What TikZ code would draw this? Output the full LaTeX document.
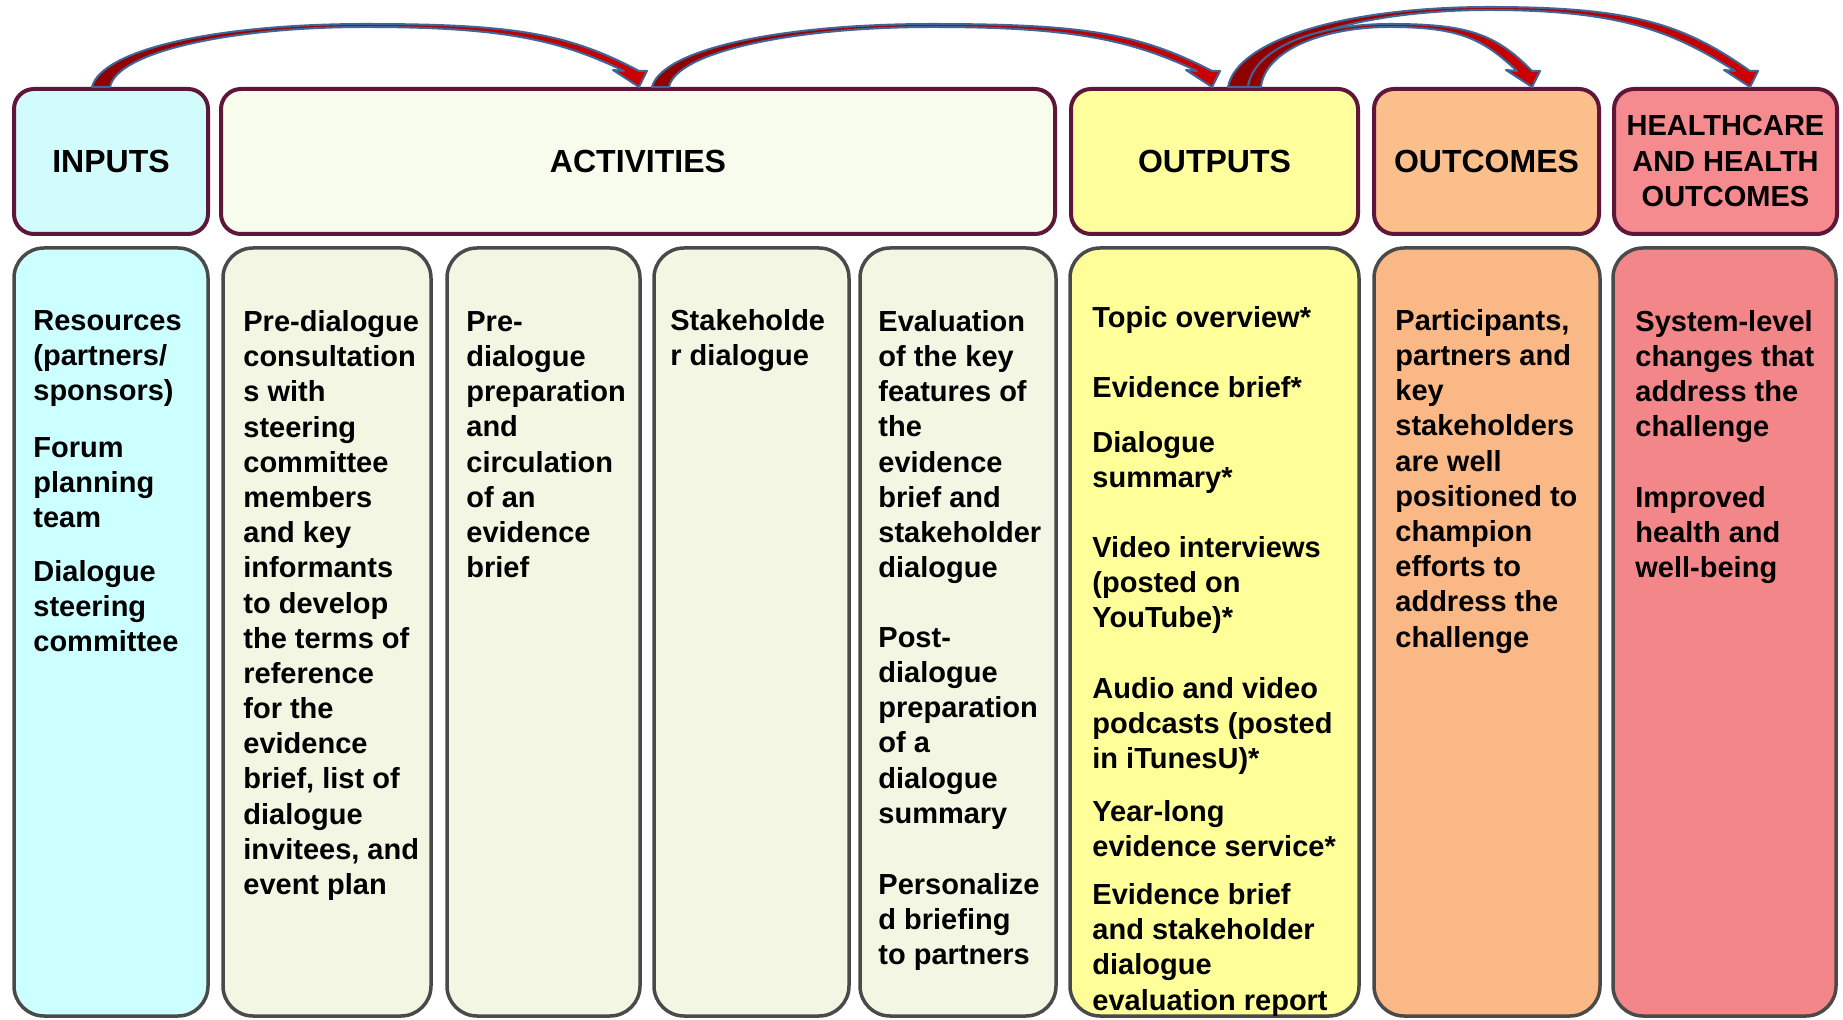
\documentclass[tikz,border=0pt]{standalone}
\usepackage{fontspec}
\setmainfont{Liberation Sans}
\usetikzlibrary{calc}
\definecolor{inH}{HTML}{D2FCFC}
\definecolor{inB}{HTML}{CCFFFF}
\definecolor{actH}{HTML}{F8FCEC}
\definecolor{actB}{HTML}{F2F6E3}
\definecolor{outH}{HTML}{FFFF9E}
\definecolor{outB}{HTML}{FFFF99}
\definecolor{ocH}{HTML}{FBBF8C}
\definecolor{ocB}{HTML}{FAB886}
\definecolor{hcH}{HTML}{F68B8F}
\definecolor{hcB}{HTML}{F38688}
\definecolor{hdrborder}{HTML}{5E1639}
\definecolor{colborder}{HTML}{4A4A4A}
\definecolor{arrowblue}{HTML}{3F6699}
\definecolor{arrowdark}{HTML}{8E0000}
\definecolor{arrowred}{HTML}{CC0000}
\tikzset{
  hdr/.style={draw=hdrborder, line width=2pt, rounded corners=10pt, align=center,
    inner sep=0pt, minimum height=72.5pt, font=\bfseries\fontsize{16}{17.75}\selectfont},
  colbox/.style={draw=colborder, line width=1.75pt, rounded corners=15pt, inner sep=0pt,
    minimum height=384pt},
  txt/.style={anchor=north west, inner sep=0pt, align=left,
    font=\bfseries\fontsize{14.5}{17.6}\selectfont},
  ribbonstyle/.style={draw=arrowblue, line width=1pt, line join=round,
    left color=arrowdark, right color=arrowred},
}
% #1 tail coordinate, #2 tip coordinate, #3 span (px), #4 rise (px), #5 tail width (px)
\newcommand\ribbon[5]{%
  \path[ribbonstyle]
   (#1) .. controls ($(#1)+(0.018*#3,-0.6*#4)$) and ($(#1)!0.5!(#2)+(-0.27*#3,-#4)$) .. ($(#1)!0.5!(#2)+(0,-#4)$)
   .. controls ($(#1)!0.5!(#2)+(0.27*#3,-#4)$) and ($(#2)+(-0.13*#3,-16-0.6*#4)$) .. ($(#2)+(0,-16)$)
   -- ($(#2)+(8,-16)$) -- (#2) -- ($(#2)+(-26,-17)$) -- ($(#2)+(-15,-16)$)
   .. controls ($(#2)+(-15-0.12*#3,-16-0.5*#4)$) and ($(#1)!0.5!(#2)+(0.25*#3,-#4+3)$) .. ($(#1)!0.5!(#2)+(0,-#4+3)$)
   .. controls ($(#1)!0.5!(#2)+(-0.25*#3,-#4+3)$) and ($(#1)+(#5+0.012*#3,-0.55*#4)$) .. ($(#1)+(#5,0)$)
   -- cycle;}
\begin{document}
\begin{tikzpicture}[x=0.5pt,y=-0.5pt]
\useasboundingbox (0,0) rectangle (1843,1020);
\clip (0,0) rectangle (1843,1020);
\fill[white] (0,0) rectangle (1843,1020);

% header boxes
\node[hdr, fill=inH, minimum width=97pt] (hin) at (111,161.5) {INPUTS};
\node[hdr, fill=actH, minimum width=417pt] (hact) at (638,161.5) {ACTIVITIES};
\node[hdr, fill=outH, minimum width=143.5pt] (hout) at (1214.5,161.5) {OUTPUTS};
\node[hdr, fill=ocH, minimum width=112.5pt] (hoc) at (1486.5,161.5) {OUTCOMES};
\node[hdr, fill=hcH, minimum width=111.5pt, font=\bfseries\fontsize{14.5}{17.75}\selectfont] (hhc) at (1725.5,161.5) {HEALTHCARE\\AND HEALTH\\OUTCOMES};

% column boxes
\node[colbox, fill=inB, minimum width=97pt] (bin) at (111,632) {};
\node[colbox, fill=actB, minimum width=104pt] (b2) at (327,632) {};
\node[colbox, fill=actB, minimum width=96.5pt] (b3) at (543.5,632) {};
\node[colbox, fill=actB, minimum width=97.5pt] (b4) at (751.5,632) {};
\node[colbox, fill=actB, minimum width=98pt] (b5) at (958,632) {};
\node[colbox, fill=outB, minimum width=144.5pt] (bout) at (1214.5,632) {};
\node[colbox, fill=ocB, minimum width=113pt] (boc) at (1487,632) {};
\node[colbox, fill=hcB, minimum width=111.5pt] (bhc) at (1724.5,632) {};

% texts
\node[txt] (i1) at (33,306) {\rule{0pt}{12pt}Resources\\(partners/\\sponsors)};
\node[txt] (i2) at (33,433) {\rule{0pt}{12pt}Forum\\planning\\team};
\node[txt] (i3) at (33,557) {\rule{0pt}{12pt}Dialogue\\steering\\committee};

\node[txt] (a1) at (243,307) {\rule{0pt}{12pt}Pre-dialogue\\consultation\\s with\\steering\\committee\\members\\and key\\informants\\to develop\\the terms of\\reference\\for the\\evidence\\brief, list of\\dialogue\\invitees, and\\event plan};
\node[txt] (a2) at (466,307) {\rule{0pt}{12pt}Pre-\\dialogue\\preparation\\and\\circulation\\of an\\evidence\\brief};
\node[txt] (a3) at (670,306) {\rule{0pt}{12pt}Stakeholde\\r dialogue};
\node[txt] (a4) at (878,307) {\rule{0pt}{12pt}Evaluation\\of the key\\features of\\the\\evidence\\brief and\\stakeholder\\dialogue};
\node[txt] (a5) at (878,623) {\rule{0pt}{12pt}Post-\\dialogue\\preparation\\of a\\dialogue\\summary};
\node[txt] (a6) at (878,870) {\rule{0pt}{12pt}Personalize\\d briefing\\to partners};

\node[txt] (o1) at (1092,303) {\rule{0pt}{12pt}Topic overview*};
\node[txt] (o2) at (1092,373) {\rule{0pt}{12pt}Evidence brief*};
\node[txt] (o3) at (1092,428) {\rule{0pt}{12pt}Dialogue\\summary*};
\node[txt] (o4) at (1092,533) {\rule{0pt}{12pt}Video interviews\\(posted on\\YouTube)*};
\node[txt] (o5) at (1092,674) {\rule{0pt}{12pt}Audio and video\\podcasts (posted\\in iTunesU)*};
\node[txt] (o6) at (1092,797) {\rule{0pt}{12pt}Year-long\\evidence service*};
\node[txt] (o7) at (1092,880) {\rule{0pt}{12pt}Evidence brief\\and stakeholder\\dialogue\\evaluation report};

\node[txt] (oc1) at (1395,306) {\rule{0pt}{12pt}Participants,\\partners and\\key\\stakeholders\\are well\\positioned to\\champion\\efforts to\\address the\\challenge};

\node[txt] (hc1) at (1635,307) {\rule{0pt}{12pt}System-level\\changes that\\address the\\challenge};
\node[txt] (hc2) at (1635,483) {\rule{0pt}{12pt}Improved\\health and\\well-being};

% curved arrows
\coordinate (t1) at ($(hin.north west)+(80,0)$);
\coordinate (h1) at ($(hact.north west)+(420,0)$);
\coordinate (t2) at ($(hact.north west)+(433,0)$);
\coordinate (h2) at ($(hout.north west)+(143,0)$);
\coordinate (t4) at ($(hout.north west)+(159,0)$);
\coordinate (h4) at ($(hhc.north west)+(138,0)$);
\coordinate (t3) at ($(hout.north west)+(179,0)$);
\coordinate (h3) at ($(hoc.north west)+(160,0)$);
\ribbon{t1}{h1}{547}{63}{18}
\ribbon{t2}{h2}{561}{63}{17}
\ribbon{t4}{h4}{522}{80}{20}
\ribbon{t3}{h3}{283}{63}{13}
\end{tikzpicture}
\end{document}
